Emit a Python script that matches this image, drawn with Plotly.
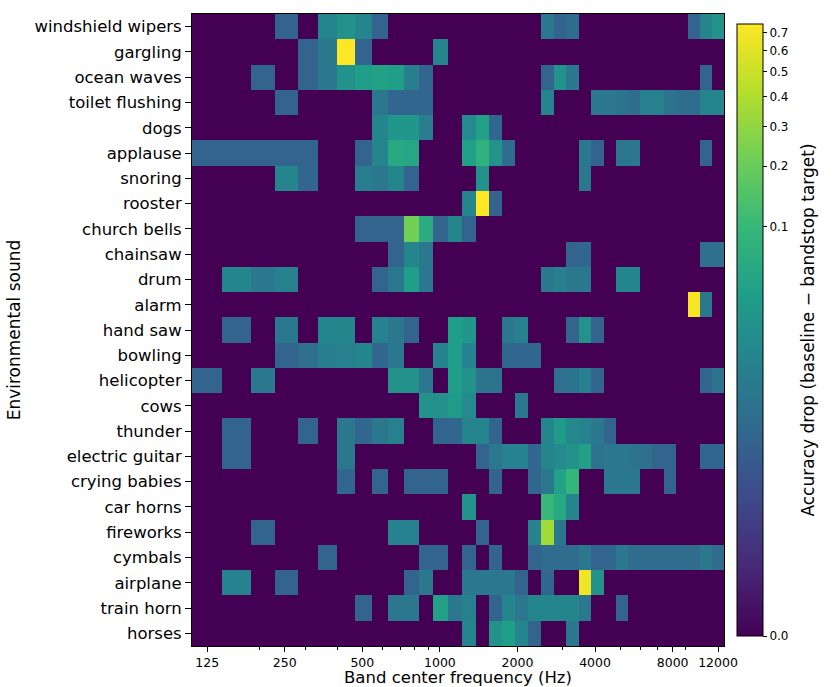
import numpy as np
import plotly.graph_objects as go

# Environmental sound classes, top to bottom
sounds = [
    "windshield wipers", "gargling", "ocean waves", "toilet flushing", "dogs",
    "applause", "snoring", "rooster", "church bells", "chainsaw", "drum",
    "alarm", "hand saw", "bowling", "helicopter", "cows", "thunder",
    "electric guitar", "crying babies", "car horns", "fireworks", "cymbals",
    "airplane", "train horn", "horses",
]

# ERB-spaced bandstop centre frequencies (Hz)
band_centers_hz = [
    125, 164, 207, 255, 308, 367, 433, 505, 586, 675, 775, 885, 1007, 1143,
    1294, 1460, 1646, 1852, 2080, 2334, 2616, 2928, 3275, 3659, 4086, 4560,
    5086, 5669, 6317, 7036, 7834, 8719, 9701, 10792, 12004,
]

x_tick_hz = [125, 250, 500, 1000, 2000, 4000, 8000, 12000]
x_tick_text = ["125", "250", "500", "1000", "2000", "4000", "8000", "12000"]
x_minor_hz = [200, 300, 400, 600, 700, 800, 900, 3000, 5000, 6000, 7000, 9000]

cbar_ticks = [0.0, 0.1, 0.2, 0.3, 0.4, 0.5, 0.6, 0.7]
cbar_title = "Accuracy drop (baseline \u2212 bandstop target)"

# Colour normalisation: power law with gamma 0.2 between 0 and VMAX
GAMMA = 0.2
VMAX = 0.75

# Accuracy drop (baseline - bandstop target), one row per sound, one column per band
accuracy_drop = [
    # windshield wipers
    [0, 0, 0, .0025, 0, .015, .025, .015, .0025, 0, 0, 0, 0, 0, 0, 0, 0, 0,
     0, 0, .0075, .0025, .004, 0, 0, 0, 0, 0, 0, 0, 0, 0, .0025, .015, .025],
    # gargling
    [0, 0, 0, 0, .0025, .0075, .75, .0025, 0, 0, 0, 0, .015, 0, 0, 0, 0, 0,
     0, 0, 0, 0, 0, 0, 0, 0, 0, 0, 0, 0, 0, 0, 0, 0, 0],
    # ocean waves
    [0, 0, .0025, 0, .0025, .0075, .025, .04, .045, .04, .01, .003, 0, 0, 0,
     0, 0, 0, 0, 0, .0025, .025, .0075, 0, 0, 0, 0, 0, 0, 0, 0, 0, 0, .0025, 0],
    # toilet flushing
    [0, 0, 0, .0025, 0, 0, 0, 0, .0075, .003, .003, .003, 0, 0, 0, 0, 0, 0,
     0, 0, .015, 0, 0, 0, .0075, .0075, .006, .004, .012, .012, .006, .004,
     .004, .015, .015],
    # dogs
    [0, 0, 0, 0, 0, 0, 0, 0, .015, .03, .03, .01, 0, 0, .018, .045, .003, 0,
     0, 0, 0, 0, 0, 0, 0, 0, 0, 0, 0, 0, 0, 0, 0, 0, 0],
    # applause
    [.0025, .0025, .0025, .0025, .0025, 0, 0, .0025, .015, .06, .055, 0, 0, 0,
     .045, .08, .025, .004, 0, 0, 0, 0, 0, .0075, .0025, 0, .0075, .0075, 0,
     0, 0, 0, 0, .0025, 0],
    # snoring
    [0, 0, 0, .015, .003, 0, 0, .01, .0075, .015, .0025, 0, 0, 0, 0, .025, 0,
     0, 0, 0, 0, 0, 0, .0075, 0, 0, 0, 0, 0, 0, 0, 0, 0, 0, 0],
    # rooster
    [0, 0, 0, 0, 0, 0, 0, 0, 0, 0, 0, 0, 0, 0, .015, .75, .0025, 0, 0, 0, 0,
     0, 0, 0, 0, 0, 0, 0, 0, 0, 0, 0, 0, 0, 0],
    # church bells
    [0, 0, 0, 0, 0, 0, 0, .0025, .0025, .0025, .22, .065, .0025, .015, .0025,
     0, 0, 0, 0, 0, 0, 0, 0, 0, 0, 0, 0, 0, 0, 0, 0, 0, 0, 0, 0],
    # chainsaw
    [0, 0, 0, 0, 0, 0, 0, 0, 0, .0025, .015, .0075, 0, 0, 0, 0, 0, 0, 0, 0,
     0, 0, .0025, .003, 0, 0, 0, 0, 0, 0, 0, 0, 0, .005, .005],
    # drum
    [0, .015, .0075, .012, 0, 0, 0, 0, .0025, .0075, .04, .0075, 0, 0, 0, 0,
     0, 0, 0, 0, .0075, .012, .0075, .0075, 0, 0, .015, .015, 0, 0, 0, 0, 0,
     0, 0],
    # alarm
    [0, 0, 0, 0, 0, 0, 0, 0, 0, 0, 0, 0, 0, 0, 0, 0, 0, 0, 0, 0, 0, 0, 0, 0,
     0, 0, 0, 0, 0, 0, 0, 0, .72, .0075, 0],
    # hand saw
    [0, .0025, 0, .0075, 0, .015, .015, 0, .013, .0075, .0025, 0, 0, .04, .03,
     0, 0, .0075, .012, 0, 0, 0, .0025, .025, .0025, 0, 0, 0, 0, 0, 0, 0, 0,
     0, 0],
    # bowling
    [0, 0, 0, .0025, .005, .01, .012, .015, .003, .0075, 0, 0, .013, .04,
     .013, 0, 0, .003, .003, .003, 0, 0, 0, 0, 0, 0, 0, 0, 0, 0, 0, 0, 0, 0, 0],
    # helicopter
    [.0025, 0, .0075, 0, 0, 0, 0, 0, 0, .025, .025, .0075, 0, .04, .025, .006,
     .006, 0, 0, 0, 0, .005, .006, .012, .003, 0, 0, 0, 0, 0, 0, 0, 0, .003,
     .006],
    # cows
    [0, 0, 0, 0, 0, 0, 0, 0, 0, 0, 0, .025, .025, .035, .018, 0, 0, 0, .0075,
     0, 0, 0, 0, 0, 0, 0, 0, 0, 0, 0, 0, 0, 0, 0, 0],
    # thunder
    [0, .0025, 0, 0, .0025, 0, .0075, .003, .0075, .012, 0, 0, .0025, .003,
     .015, .015, .0025, 0, 0, 0, .015, .035, .017, .013, .0075, .0025, 0, 0,
     0, 0, 0, 0, 0, 0, 0],
    # electric guitar
    [0, .0025, 0, 0, 0, 0, .0075, 0, 0, 0, 0, 0, 0, 0, 0, .0025, .0075, .013,
     .013, .003, .015, .018, .025, .045, .006, .0075, .0075, .006, .005, .0025,
     .0025, 0, 0, .003, .003],
    # crying babies
    [0, 0, 0, 0, 0, 0, .003, 0, .0025, 0, .0025, .0025, .0025, 0, 0, 0, .0025,
     0, 0, .003, .0075, .045, .095, 0, 0, .0075, .0075, .0075, 0, 0, .0025, 0,
     0, 0, 0],
    # car horns
    [0, 0, 0, 0, 0, 0, 0, 0, 0, 0, 0, 0, 0, 0, .025, 0, 0, 0, 0, 0, .1, .06,
     .015, 0, 0, 0, 0, 0, 0, 0, 0, 0, 0, 0, 0],
    # fireworks
    [0, 0, .0025, 0, 0, 0, 0, 0, 0, .013, .013, 0, 0, 0, 0, .0025, 0, 0, 0,
     .013, .35, .0075, 0, 0, 0, 0, 0, 0, 0, 0, 0, 0, 0, 0, 0],
    # cymbals
    [0, 0, 0, 0, 0, .0025, 0, 0, 0, 0, 0, .0025, .0025, 0, .0025, 0, .0025, 0,
     0, .0025, .004, .004, .004, .0075, .0025, .003, .0075, .004, .004, .004,
     .004, .004, .004, .0075, .004],
    # airplane
    [0, .013, 0, .0025, 0, 0, 0, 0, 0, 0, .0025, .0075, 0, 0, .0075, .0075,
     .0075, .0075, .0025, 0, .003, 0, 0, .68, .025, 0, 0, 0, 0, 0, 0, 0, 0, 0,
     0],
    # train horn
    [0, 0, 0, 0, 0, 0, 0, .0025, 0, .0075, .0075, 0, .045, .0075, .012, 0,
     .0025, .015, .0075, .015, .015, .015, .015, .0075, 0, 0, .0025, 0, 0, 0,
     0, 0, 0, 0, 0],
    # horses
    [0, 0, 0, 0, 0, 0, 0, 0, 0, 0, 0, 0, 0, 0, .015, 0, .025, .04, .015,
     .0025, 0, 0, .0075, 0, 0, 0, 0, 0, 0, 0, 0, 0, 0, 0, 0],
]

FONT = "DejaVu Sans"

# Cell edges: geometric midpoints between neighbouring band centres,
# with half a step added beyond the first and last band
log_c = np.log(np.asarray(band_centers_hz, dtype=float))
inner = (log_c[:-1] + log_c[1:]) / 2
first = log_c[0] - (log_c[1] - log_c[0]) / 2
last = log_c[-1] + (log_c[-1] - log_c[-2]) / 2
band_edges_hz = np.exp(np.concatenate([[first], inner, [last]]))

z = np.asarray(accuracy_drop, dtype=float)
z_color = (np.clip(z, 0, VMAX) / VMAX) ** GAMMA

# Tick labels get trailing no-break spaces so the bar title sits a bit further out
cbar_ticktext = [f"{v:.1f}" + "\u00a0" * 2 for v in cbar_ticks]

fig = go.Figure(
    go.Heatmap(
        x=band_edges_hz,
        y=sounds,
        z=z_color,
        customdata=z,
        hovertemplate="%{y}<br>drop: %{customdata:.3f}<extra></extra>",
        colorscale="Viridis",
        zmin=0,
        zmax=1,
        colorbar=dict(
            tickvals=[(v / VMAX) ** GAMMA for v in cbar_ticks],
            ticktext=cbar_ticktext,
            ticks="outside",
            ticklen=4,
            tickwidth=1,
            tickcolor="black",
            tickfont=dict(family=FONT, size=12, color="black"),
            thickness=26,
            len=1,
            x=1.004,
            xanchor="left",
            y=0.5,
            yanchor="middle",
            outlinewidth=1,
            outlinecolor="black",
            title=dict(
                text=cbar_title,
                side="right",
                font=dict(family=FONT, size=17, color="black"),
            ),
        ),
    )
)

fig.update_layout(
    width=840,
    height=687,
    margin=dict(l=192, r=115, t=14, b=41),
    paper_bgcolor="white",
    plot_bgcolor="white",
    font=dict(family=FONT, color="black"),
)

fig.update_xaxes(
    type="log",
    range=[np.log10(band_edges_hz[0]), np.log10(band_edges_hz[-1])],
    tickmode="array",
    tickvals=x_tick_hz,
    ticktext=x_tick_text,
    ticks="outside",
    ticklen=5,
    tickwidth=1,
    tickcolor="black",
    tickfont=dict(family=FONT, size=12.5, color="black"),
    minor=dict(ticks="outside", tickmode="array", tickvals=x_minor_hz,
               ticklen=3, tickwidth=1, tickcolor="black", showgrid=False),
    showgrid=False,
    zeroline=False,
    showline=True,
    linecolor="black",
    linewidth=1,
    mirror=True,
    automargin=False,
    title=dict(text="Band center frequency (Hz)", standoff=5,
               font=dict(family=FONT, size=16.5, color="black")),
)

fig.update_yaxes(
    autorange="reversed",
    ticks="outside",
    ticklen=6,
    tickwidth=1,
    tickcolor="black",
    tickfont=dict(family=FONT, size=16.5, color="black"),
    showgrid=False,
    zeroline=False,
    showline=True,
    linecolor="black",
    linewidth=1,
    mirror=True,
    automargin=False,
    title=dict(text="Environmental sound", standoff=9,
               font=dict(family=FONT, size=17, color="black")),
)

fig.write_html("out.html")
